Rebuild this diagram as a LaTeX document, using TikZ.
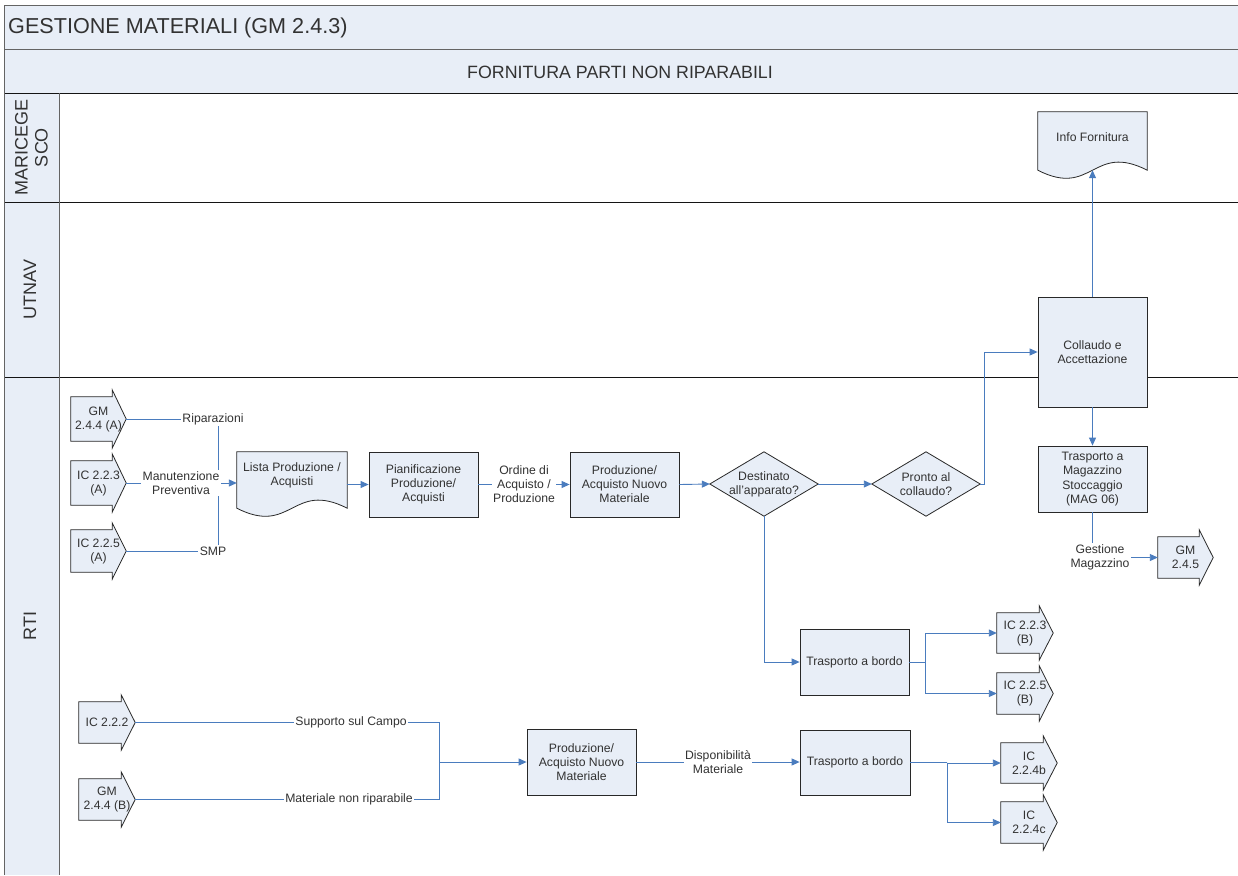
\documentclass[tikz,border=0pt]{standalone}
\usepackage{fontspec}
\setmainfont{Liberation Sans}
\usetikzlibrary{calc,arrows.meta}
\pgfdeclarelayer{back}
\pgfdeclarelayer{background}
\pgfsetlayers{back,background,main}
\definecolor{boxfill}{RGB}{232,238,247}
\definecolor{boxline}{RGB}{40,40,40}
\definecolor{flowc}{RGB}{74,124,190}
\definecolor{txt}{RGB}{50,50,50}
\definecolor{laneline}{RGB}{20,20,20}
\definecolor{colline}{RGB}{100,100,100}
\newcommand\fsz{\fontsize{12.2}{14}\selectfont}
\newcommand\docshp[2]{\draw[shp] (#1.north west) -- (#1.north east) -- ($(#1.south east)+(0,#2)$) .. controls ($(#1.south)+(0,#2-28)$) and ($(#1.south)+(0,#2+28)$) .. ($(#1.south west)+(0,#2)$) -- cycle;}
\newcommand\offpg[1]{\draw[shp] (#1.north west) -- ($(#1.north east)+(-14,0)$) -- ($(#1.north east)+(-14,-7)$) -- (#1.east) -- ($(#1.south east)+(-14,7)$) -- ($(#1.south east)+(-14,0)$) -- (#1.south west) -- cycle;}
\newcommand\diashp[1]{\draw[shp] (#1.west) -- (#1.north) -- (#1.east) -- (#1.south) -- cycle;}
\begin{document}
\begin{tikzpicture}[x=1pt,y=-1pt,
  pbox/.style={rectangle, draw=boxline, fill=boxfill, line width=0.8pt, inner sep=1pt, align=center, font=\fsz, text=txt, minimum width=109pt, minimum height=65pt},
  hold/.style={rectangle, inner sep=0pt, align=center, font=\fsz, text=txt},
  shp/.style={draw=boxline, fill=boxfill, line width=0.8pt, line join=miter},
  flow/.style={draw=flowc, line width=0.9pt},
  flowar/.style={flow, -{Triangle[length=8pt,width=7pt]}},
  lbl/.style={fill=white, inner sep=1.5pt, align=center, font=\fsz, text=txt},
  lane/.style={draw=laneline, line width=0.8pt},
  lanetxt/.style={rotate=90, align=center, font=\fontsize{18}{20}\selectfont, text=txt}
]
\useasboundingbox (0,0) rectangle (1238,875);
\begin{pgfonlayer}{back}
  \fill[white] (0,0) rectangle (1238,875);
  \fill[boxfill] (4,6) rectangle (1238,93);
  \fill[boxfill] (4,93) rectangle (59,875);
  \draw[draw=colline, line width=1pt] (4,6) -- (1238,6);
  \draw[draw=colline, line width=1pt] (4,50) -- (1238,50);
  \draw[lane] (4,93) -- (1238,93);
  \draw[lane] (4,202) -- (1238,202);
  \draw[lane] (4,377) -- (1238,377);
  \draw[draw=colline, line width=1pt] (4,6) -- (4,875);
  \draw[draw=colline, line width=1pt] (59,93) -- (59,875);
\end{pgfonlayer}

% headers
\node[anchor=west, font=\fontsize{21.6}{25}\selectfont, text=txt, inner sep=0pt] (title) at (8,28) {GESTIONE MATERIALI (GM 2.4.3)};
\node[font=\fontsize{17.8}{21}\selectfont, text=txt, inner sep=0pt] (sub) at (620,72) {FORNITURA PARTI NON RIPARABILI};
\node[lanetxt] (l1) at (31.5,147.5) {MARICEGE\\SCO};
\node[lanetxt] (l2) at (30,289.5) {UTNAV};
\node[lanetxt] (l3) at (30,626) {RTI};

% documents
\node[hold, minimum width=109pt, minimum height=50pt] (info) at (1092.5,137) {Info Fornitura};
\node[hold, minimum width=110pt, minimum height=47pt] (lista) at (292,475.5) {Lista Produzione /\\Acquisti};

% process boxes
\node[pbox, minimum height=110pt] (collaudo) at (1092.5,352) {Collaudo e\\Accettazione};
\node[pbox, minimum height=66pt, font=\fontsize{12.2}{14.6}\selectfont] (trmag) at (1092.5,479) {Trasporto a\\Magazzino\\Stoccaggio\\(MAG 06)};
\node[pbox] (pian) at (423.5,484.5) {Pianificazione\\Produzione/\\Acquisti};
\node[pbox] (prod1) at (624.5,484.5) {Produzione/\\Acquisto Nuovo\\Materiale};
\node[pbox, minimum height=66pt] (trb1) at (854.5,662) {Trasporto a bordo};
\node[pbox, minimum width=110pt] (trb2) at (855,762.5) {Trasporto a bordo};
\node[pbox, minimum height=66pt] (prod2) at (581.5,762) {Produzione/\\Acquisto Nuovo\\Materiale};

% decisions
\node[hold, minimum width=108pt, minimum height=64pt] (dest) at (764,484) {Destinato\\all'apparato?};
\node[hold, minimum width=108pt, minimum height=64pt] (pronto) at (926,484) {Pronto al\\collaudo?};

% off-page references
\node[hold, minimum width=55pt, minimum height=44pt] (gm244a) at (98.5,419) {GM\\2.4.4 (A)};
\node[hold, minimum width=55pt, minimum height=44pt] (ic223a) at (98.5,483) {IC 2.2.3\\(A)};
\node[hold, minimum width=55pt, minimum height=42pt] (ic225a) at (98.5,551) {IC 2.2.5\\(A)};
\node[hold, minimum width=56pt, minimum height=41pt] (ic222) at (107,722.5) {IC 2.2.2};
\node[hold, minimum width=56pt, minimum height=41pt] (gm244b) at (107,799.5) {GM\\2.4.4 (B)};
\node[hold, minimum width=55pt, minimum height=41pt] (gm245) at (1185.5,557.5) {GM\\2.4.5};
\node[hold, minimum width=56pt, minimum height=40pt] (ic223b) at (1025,633) {IC 2.2.3\\(B)};
\node[hold, minimum width=56pt, minimum height=41pt] (ic225b) at (1025,693.5) {IC 2.2.5\\(B)};
\node[hold, minimum width=56pt, minimum height=40pt] (ic224b) at (1029,763) {IC\\2.2.4b};
\node[hold, minimum width=56pt, minimum height=41pt] (ic224c) at (1029,822.5) {IC\\2.2.4c};

\begin{pgfonlayer}{background}
  \docshp{info}{8}
  \docshp{lista}{9}
  \diashp{dest}
  \diashp{pronto}
  \offpg{gm244a}
  \offpg{ic223a}
  \offpg{ic225a}
  \offpg{ic222}
  \offpg{gm244b}
  \offpg{gm245}
  \offpg{ic223b}
  \offpg{ic225b}
  \offpg{ic224b}
  \offpg{ic224c}
\end{pgfonlayer}

% connectors
\coordinate (bus1) at (218,483);
\draw[flow] (gm244a.east) -| (bus1);
\draw[flow] (ic225a.east) -| (bus1);
\draw[flow] (ic223a.east) -- (bus1);
\draw[flowar] (bus1) -- (lista.west |- bus1);
\node[lbl] (lrip) at (213,419) {Riparazioni};
\node[lbl] (lman) at (181,483) {Manutenzione\\Preventiva};
\node[lbl] (lsmp) at (213,551) {SMP};

\draw[flowar] (lista.east |- pian.west) -- (pian.west);
\draw[flowar] (pian.east) -- node[lbl] (lord) {Ordine di\\Acquisto /\\Produzione} (prod1.west);
\draw[flowar] (prod1.east) -- (dest.west);
\draw[flowar] (dest.east) -- (pronto.west);
\draw[flowar] (pronto.east) -- ++(4,0) |- (collaudo.west);
\draw[flowar] (collaudo.north) -- ($(info.south)+(0,8)$);
\draw[flowar] (collaudo.south) -- (trmag.north);
\draw[flowar] (trmag.south) |- (gm245.west);
\node[lbl] (lgest) at (1100,557) {Gestione\\Magazzino};

\draw[flowar] (dest.south) |- (trb1.west);
\coordinate (s1) at ($(trb1.east)+(16,0)$);
\draw[flow] (trb1.east) -- (s1);
\draw[flowar] (s1) |- (ic223b.west);
\draw[flowar] (s1) |- (ic225b.west);

\coordinate (bus2) at (439,762);
\draw[flow] (ic222.east) -| (bus2);
\draw[flow] (gm244b.east) -| (bus2);
\draw[flowar] (bus2) -- (prod2.west |- bus2);
\node[lbl] (lsup) at (351,722.5) {Supporto sul Campo};
\node[lbl] (lmat) at (349,799.5) {Materiale non riparabile};

\draw[flowar] (prod2.east) -- node[lbl] (ldisp) {Disponibilità\\Materiale} (trb2.west |- prod2.east);
\coordinate (s2) at ($(trb2.east)+(37,0)$);
\draw[flow] (trb2.east) -- (s2);
\draw[flowar] (s2) |- (ic224b.west);
\draw[flowar] (s2) |- (ic224c.west);
\end{tikzpicture}
\end{document}
